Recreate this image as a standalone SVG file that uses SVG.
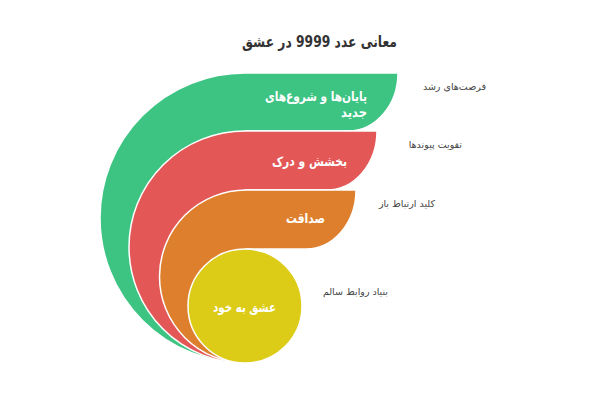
<svg xmlns="http://www.w3.org/2000/svg" width="600" height="400" viewBox="0 0 600 400">
<style>
.shape{stroke:#ffffff;stroke-width:1.5}
.lbl{font-family:"DejaVu Sans","Noto Sans",sans-serif;font-weight:bold;fill:#ffffff;font-size:13.5px}
.side{font-family:"DejaVu Sans","Noto Sans",sans-serif;fill:#444444;font-size:9.5px}
.title{font-family:"DejaVu Sans","Noto Sans",sans-serif;font-weight:bold;fill:#333333;font-size:15.5px}
</style>
<rect width="600" height="400" fill="#ffffff"/>
<text class="title" x="397" y="47" direction="rtl" text-anchor="start" textLength="155" lengthAdjust="spacingAndGlyphs">معانی عدد 9999 در عشق</text>
<g id="node-green">
<path class="shape" fill="#3dc483" d="M245,73 H398 A50,58 0 0 1 348,131 H245 V363 A145,145 0 0 1 245,73 Z"/>
<text class="lbl" x="367" y="101" direction="rtl" text-anchor="start" textLength="102" lengthAdjust="spacingAndGlyphs">پایان‌ها و شروع‌های</text>
<text class="lbl" x="367" y="117" direction="rtl" text-anchor="start" textLength="26" lengthAdjust="spacingAndGlyphs">جدید</text>
</g>
<g id="node-red">
<path class="shape" fill="#e35757" d="M245,131 H377 A50,59 0 0 1 327,190 H245 V363 A116,116 0 0 1 245,131 Z"/>
<text class="lbl" x="347" y="166" direction="rtl" text-anchor="start" textLength="75" lengthAdjust="spacingAndGlyphs">بخشش و درک</text>
</g>
<g id="node-orange">
<path class="shape" fill="#de7f2d" d="M246,190 H356 A50,59 0 0 1 306,249 H246 V363 A86.5,86.5 0 0 1 246,190 Z"/>
<text class="lbl" x="325" y="223" direction="rtl" text-anchor="start" textLength="39" lengthAdjust="spacingAndGlyphs">صداقت</text>
</g>
<g id="node-yellow">
<circle class="shape" fill="#dccc17" cx="245" cy="306" r="57"/>
<text class="lbl" x="276" y="312" direction="rtl" text-anchor="start" textLength="63" lengthAdjust="spacingAndGlyphs">عشق به خود</text>
</g>
<g id="side-labels">
<text class="side" x="486" y="90" direction="rtl" text-anchor="start">فرصت‌های رشد</text>
<text class="side" x="462" y="148" direction="rtl" text-anchor="start">تقویت پیوندها</text>
<text class="side" x="435" y="207" direction="rtl" text-anchor="start">کلید ارتباط باز</text>
<text class="side" x="388" y="295" direction="rtl" text-anchor="start">بنیاد روابط سالم</text>
</g>
<g id="connectors"></g>
</svg>
